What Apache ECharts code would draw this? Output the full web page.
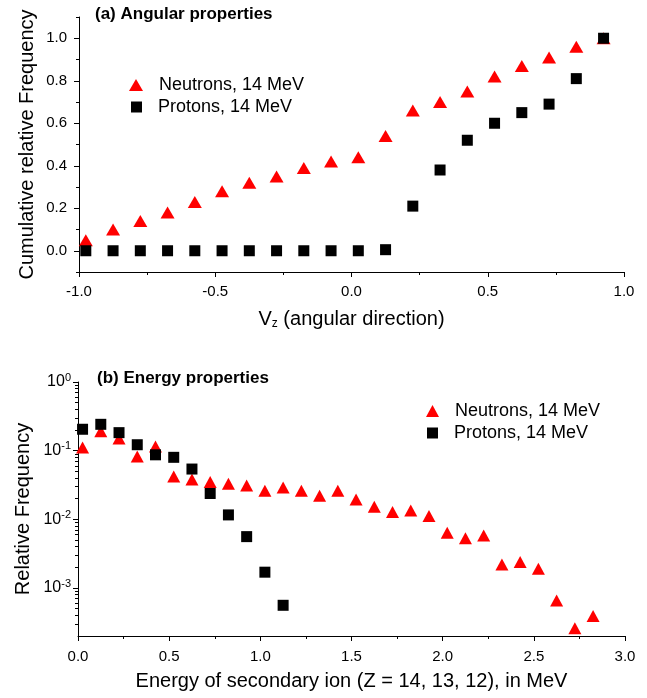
<!DOCTYPE html>
<html><head><meta charset="utf-8">
<script src="https://cdn.jsdelivr.net/npm/echarts@6/dist/echarts.min.js"></script>
<style>html,body{margin:0;padding:0;background:#fff}#c{width:647px;height:698px}</style>
</head><body><div id="c"></div>
<script>
// ---- data ----
const xAngular = [-0.975,-0.875,-0.775,-0.675,-0.575,-0.475,-0.375,-0.275,-0.175,-0.075,0.025,0.125,0.225,0.325,0.425,0.525,0.625,0.725,0.825,0.925];
const neutronsAngular = [0.05,0.10,0.14,0.18,0.23,0.28,0.32,0.35,0.39,0.42,0.44,0.54,0.66,0.70,0.75,0.82,0.87,0.91,0.96,1.00];
const protonsAngular = [0,0,0,0,0,0,0,0,0,0,0,0.005,0.21,0.38,0.52,0.60,0.65,0.69,0.81,1.00];
const xEnergy = [0.025,0.125,0.225,0.325,0.425,0.525,0.625,0.725,0.825,0.925,1.025,1.125,1.225,1.325,1.425,1.525,1.625,1.725,1.825,1.925,2.025,2.125,2.225,2.325,2.425,2.525,2.625,2.725,2.825];
const neutronsEnergy = [0.111,0.192,0.150,0.082,0.115,0.042,0.038,0.035,0.033,0.031,0.026,0.029,0.026,0.022,0.026,0.0195,0.0153,0.0128,0.0135,0.0112,0.0064,0.0053,0.0058,0.0022,0.0024,0.0019,0.00066,0.00026,0.00039];
const protonsEnergy = [0.205,0.242,0.183,0.122,0.087,0.080,0.054,0.0238,0.0116,0.0056,0.0017,0.00056];
const cumMajorTicks = [0,0.2,0.4,0.6,0.8,1.0];
const cumMinorTicks = [-0.1,0.1,0.3,0.5,0.7,0.9,1.1];
const freqMajorTicks = [1e-3,1e-2,1e-1,1];
const freqMinorTicks = [3e-4,4e-4,5e-4,6e-4,7e-4,8e-4,9e-4,2e-3,3e-3,4e-3,5e-3,6e-3,7e-3,8e-3,9e-3,0.02,0.03,0.04,0.05,0.06,0.07,0.08,0.09,0.2,0.3,0.4,0.5,0.6,0.7,0.8,0.9];
const seriesNames = ['Neutrons, 14 MeV','Protons, 14 MeV'];
const panelTitles = ['(a) Angular properties','(b) Energy properties'];

// ---- styling ----
const FONT = '"Liberation Sans", Arial, sans-serif';
const BLACK = '#000';
const RED = '#ff0000';
const line = {show:true, onZero:false, lineStyle:{color:BLACK, width:1}};
const noLine = {show:false, onZero:false};
const lbl = {color:BLACK, fontFamily:FONT, fontSize:15};
const nameStyle = {color:BLACK, fontFamily:FONT, fontSize:20};

const pairs = (xs, ys) => ys.map((y,i)=>[xs[i], y]);

const chart = echarts.init(document.getElementById('c'), null, {renderer:'canvas'});
const legendItem = (name, icon, left, top, w, h) => ({
  data:[{name, icon}], left, top, padding:0, itemWidth:w, itemHeight:h, selectedMode:false,
  textStyle:{color:BLACK, fontFamily:FONT, fontSize:18, padding:[0,0,0,11]}
});

chart.setOption({
  animation:false,
  backgroundColor:'#fff',
  title:[
    {text:panelTitles[0], left:95, top:6, padding:0, textStyle:{fontFamily:FONT, fontWeight:'bold', fontSize:17, color:BLACK}},
    {text:panelTitles[1], left:97, top:370, padding:0, textStyle:{fontFamily:FONT, fontWeight:'bold', fontSize:17, color:BLACK}}
  ],
  legend:[
    legendItem(seriesNames[0],'triangle',129,76,14,12),
    legendItem(seriesNames[1],'rect',131,98,11,11),
    legendItem(seriesNames[0],'triangle',426,402,13,12),
    legendItem(seriesNames[1],'rect',427,424,11,11)
  ],
  grid:[
    {left:79, right:23, top:17, bottom:426, containLabel:false, outerBoundsMode:'none'},
    {left:78, right:22, top:382, bottom:62, containLabel:false, outerBoundsMode:'none'}
  ],
  xAxis:[
    {type:'value', gridIndex:0, position:'bottom', min:-1, max:1, interval:0.5,
     axisLine:line, axisTick:{show:true, length:5, lineStyle:{color:BLACK}},
     minorTick:{show:true, splitNumber:2, length:3, lineStyle:{color:BLACK}},
     splitLine:{show:false}, minorSplitLine:{show:false},
     axisLabel:Object.assign({margin:12, formatter:v=>v.toFixed(1)}, lbl),
     name:'V{sub|z} (angular direction)', nameLocation:'middle', nameGap:36, nameMoveOverlap:false,
     nameTextStyle:Object.assign({rich:{sub:{fontFamily:FONT, fontSize:12, color:BLACK, verticalAlign:'bottom', padding:[10,0,0,0]}}}, nameStyle)},
    {type:'value', gridIndex:1, position:'bottom', min:0, max:3, interval:0.5,
     axisLine:line, axisTick:{show:true, length:5, lineStyle:{color:BLACK}},
     minorTick:{show:true, splitNumber:2, length:3, lineStyle:{color:BLACK}},
     splitLine:{show:false}, minorSplitLine:{show:false},
     axisLabel:Object.assign({margin:13, formatter:v=>v.toFixed(1)}, lbl),
     name:'Energy of secondary ion (Z = 14, 13, 12), in MeV', nameLocation:'middle', nameGap:35, nameMoveOverlap:false,
     nameTextStyle:nameStyle}
  ],
  yAxis:[
    {type:'value', gridIndex:0, position:'left', min:-0.1, max:1.1, interval:0.1,
     axisLine:line,
     axisTick:{show:true, length:5, customValues:cumMajorTicks, lineStyle:{color:BLACK}},
     splitLine:{show:false},
     axisLabel:Object.assign({margin:12, customValues:cumMajorTicks, formatter:v=>v.toFixed(1)}, lbl),
     name:'Cumulative relative Frequency', nameLocation:'middle', nameGap:42, nameMoveOverlap:false,
     nameTextStyle:Object.assign({}, nameStyle, {fontSize:20})},
    {type:'value', gridIndex:0, position:'left', offset:0, min:-0.1, max:1.1, interval:0.1,
     axisLine:noLine,
     axisTick:{show:true, length:3, customValues:cumMinorTicks, lineStyle:{color:BLACK}},
     splitLine:{show:false}, axisLabel:{show:false}},
    {type:'log', logBase:10, gridIndex:1, position:'left', min:2e-4, max:1,
     axisLine:line,
     axisTick:{show:true, length:5, customValues:freqMajorTicks, lineStyle:{color:BLACK}},
     splitLine:{show:false}, minorTick:{show:false},
     axisLabel:{margin:7, customValues:freqMajorTicks, color:BLACK, fontFamily:FONT,
       formatter:v=>'{b|10}{s|'+Math.round(Math.log10(v))+'}',
       rich:{b:{fontFamily:FONT, fontSize:16, color:BLACK},
             s:{fontFamily:FONT, fontSize:11, color:BLACK, verticalAlign:'top', padding:[0,0,9,0]}}},
     name:'Relative Frequency', nameLocation:'middle', nameGap:45, nameMoveOverlap:false,
     nameTextStyle:nameStyle},
    {type:'log', logBase:10, gridIndex:1, position:'left', offset:0, min:2e-4, max:1,
     axisLine:noLine,
     axisTick:{show:true, length:3, customValues:freqMinorTicks, lineStyle:{color:BLACK}},
     splitLine:{show:false}, axisLabel:{show:false}}
  ],
  series:[
    {name:seriesNames[0], type:'scatter', xAxisIndex:0, yAxisIndex:0, symbol:'triangle', symbolSize:[14,12],
     itemStyle:{color:RED, opacity:1}, data:pairs(xAngular, neutronsAngular)},
    {name:seriesNames[1], type:'scatter', xAxisIndex:0, yAxisIndex:0, symbol:'rect', symbolSize:11,
     itemStyle:{color:BLACK, opacity:1}, data:pairs(xAngular, protonsAngular)},
    {name:seriesNames[0], type:'scatter', xAxisIndex:1, yAxisIndex:2, symbol:'triangle', symbolSize:[13,12],
     itemStyle:{color:RED, opacity:1}, data:pairs(xEnergy, neutronsEnergy)},
    {name:seriesNames[1], type:'scatter', xAxisIndex:1, yAxisIndex:2, symbol:'rect', symbolSize:11,
     itemStyle:{color:BLACK, opacity:1}, data:pairs(xEnergy, protonsEnergy)}
  ]
});
</script></body></html>
